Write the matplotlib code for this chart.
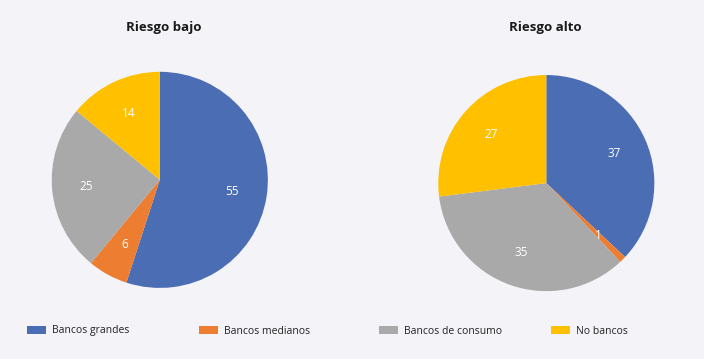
import matplotlib.pyplot as plt
from matplotlib.patches import Patch

plt.rcParams['font.family'] = ['Open Sans', 'DejaVu Sans']

# data
categorias = ['Bancos grandes', 'Bancos medianos', 'Bancos de consumo', 'No bancos']
riesgo_bajo = [55, 6, 25, 14]
riesgo_alto = [37, 1, 35, 27]
titulos = ['Riesgo bajo', 'Riesgo alto']
colores = ['#4A6DB4', '#ED7D31', '#A9A9A9', '#FFC000']
fondo = '#F4F3F8'

fig = plt.figure(figsize=(7.04, 3.59), dpi=100, facecolor=fondo)

# axes positions (left, bottom, width, height) in figure fraction
pos = [[0.227 - 0.154, 0.499 - 0.301, 0.308, 0.602],
       [0.776 - 0.154, 0.490 - 0.301, 0.308, 0.602]]

for i, vals in enumerate([riesgo_bajo, riesgo_alto]):
    ax = fig.add_axes(pos[i])
    ax.set_facecolor(fondo)
    ax.pie(vals, colors=colores, startangle=90, counterclock=False,
           labels=[str(v) for v in vals], labeldistance=0.68,
           textprops={'color': 'white', 'fontsize': 8.5, 'ha': 'center', 'va': 'center'},
           wedgeprops={'linewidth': 0})
    ax.set_xlim(-1, 1)
    ax.set_ylim(-1, 1)
    ax.set_aspect('equal')

fig.text(0.233, 1 - 28 / 359, titulos[0], ha='center', va='center',
         fontsize=9.5, fontweight='bold', color='#1a1a1a')
fig.text(0.775, 1 - 28 / 359, titulos[1], ha='center', va='center',
         fontsize=9.5, fontweight='bold', color='#1a1a1a')

# legend, one entry per fixed position
xs = [27, 199, 379, 551]
for x, cat, col in zip(xs, categorias, colores):
    leg = fig.legend(handles=[Patch(facecolor=col, edgecolor='none', label=cat)],
                     loc='center left', bbox_to_anchor=(x / 704, 1 - 331 / 359),
                     frameon=False, fontsize=7.5, borderpad=0, borderaxespad=0,
                     handlelength=1.8, handletextpad=0.6)
    for t in leg.get_texts():
        t.set_color('#222222')

fig.savefig('out.png', dpi=100, facecolor=fondo)
